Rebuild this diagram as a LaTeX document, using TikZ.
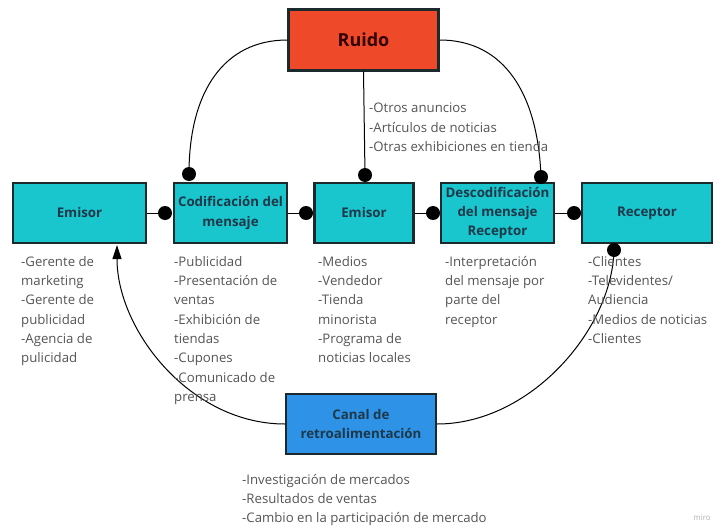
\documentclass[tikz,border=0pt]{standalone}
\usepackage{fontspec}
\setmainfont{Open Sans}
\usetikzlibrary{arrows.meta}
\definecolor{cyanbox}{HTML}{19C6CE}
\definecolor{redbox}{HTML}{EE4A2A}
\definecolor{bluebox}{HTML}{2E93E6}
\definecolor{boxline}{HTML}{1C2A2E}
\definecolor{titletext}{HTML}{1E3848}
\definecolor{bodytext}{HTML}{555555}
\tikzset{
  box/.style={draw=boxline, line width=2.2pt, minimum height=60pt, inner sep=1pt, align=center,
    text=titletext, font={\fontsize{13.3}{19.3}\selectfont\bfseries}},
  cbox/.style={box, fill=cyanbox},
  dot/.style={circle, fill=black, minimum size=14pt, inner sep=0pt},
  note/.style={anchor=north west, align=left, inner sep=0pt, text=bodytext,
    font={\fontsize{13.2}{19.3}\selectfont}},
  link/.style={draw=black, line width=1pt},
}
\begin{document}
\begin{tikzpicture}[x=1pt,y=-1pt]
\useasboundingbox[fill=white] (0,0) rectangle (714,527);

% boxes
\node[box, fill=redbox, minimum width=150pt, minimum height=61pt, text=black!80!red,
  font={\fontsize{18}{20}\selectfont\bfseries}] (ruido) at (363.5,40) {Ruido};
\node[cbox, minimum width=133pt] (emisorA) at (79.5,213) {Emisor};
\node[cbox, minimum width=113pt] (cod) at (230.5,213) {Codificación del\\mensaje};
\node[cbox, minimum width=99pt] (emisorB) at (364,213) {Emisor};
\node[cbox, minimum width=113pt] (desc) at (497.5,213) {Descodificación\\del mensaje\\Receptor};
\node[cbox, minimum width=130pt] (rec) at (647,213) {Receptor};
\node[box, fill=bluebox, minimum width=150pt] (canal) at (361,424) {Canal de\\retroalimentación};

% dots
\node[dot] (d1) at (165,213) {};
\node[dot] (d2) at (306,213) {};
\node[dot] (d3) at (433,213) {};
\node[dot] (d4) at (574,213) {};
\node[dot] (t1) at (189,174) {};
\node[dot] (t2) at (365,175) {};
\node[dot] (t3) at (541,177) {};
\node[dot] (b1) at (614,250) {};
\coordinate (arrowend) at (117,245);

% horizontal links
\draw[link] (emisorA.east) -- (d1.center);
\draw[link] (cod.east) -- (d2.center);
\draw[link] (emisorB.east) -- (d3.center);
\draw[link] (desc.east) -- (d4.center);

% noise links
\draw[link] (ruido.west) .. controls (225,40) and (189,90) .. (t1.center);
\draw[link] (ruido.south) -- (t2.center);
\draw[link] (ruido.east) .. controls (505,40) and (538,95) .. (t3.center);

% feedback links
\draw[link, -{Triangle[length=14pt,width=9pt]}] (canal.west) .. controls (190,424) and (117,330) .. (arrowend);
\draw[link] (canal.east) .. controls (530,424) and (612,330) .. (b1.center);

% notes
\node[note] (nr) at (369,103) {-Otros anuncios\\-Artículos de noticias\\-Otras exhibiciones en tienda};
\node[note] (n1) at (21,256) {-Gerente de\\marketing\\-Gerente de\\publicidad\\-Agencia de\\pulicidad};
\node[note] (n2) at (174,256) {-Publicidad\\-Presentación de\\ventas\\-Exhibición de\\tiendas\\-Cupones\\-Comunicado de\\prensa};
\node[note] (n3) at (318,256) {-Medios\\-Vendedor\\-Tienda\\minorista\\-Programa de\\noticias locales};
\node[note] (n4) at (445,256) {-Interpretación\\del mensaje por\\parte del\\receptor};
\node[note] (n5) at (588,256) {-Clientes\\-Televidentes/\\Audiencia\\-Medios de noticias\\-Clientes};
\node[note] (n6) at (242,474) {-Investigación de mercados\\-Resultados de ventas\\-Cambio en la participación de mercado};
\node[anchor=base east, inner sep=0pt, text=black!30, font={\fontsize{8}{10}\selectfont}] (miro) at (711,520) {miro};
\end{tikzpicture}
\end{document}
